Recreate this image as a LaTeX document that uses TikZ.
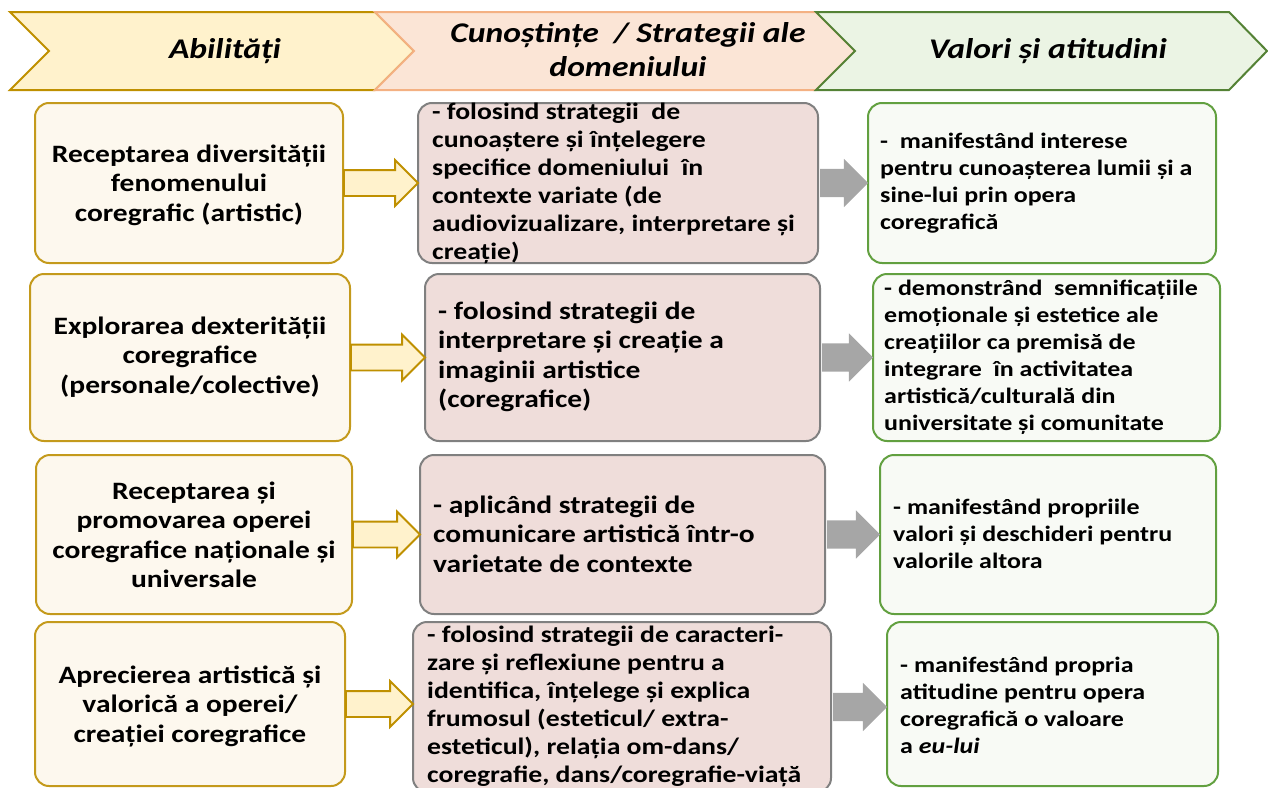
\documentclass[tikz,border=0pt]{standalone}
\usepackage{fontspec}
\setmainfont{Carlito}[FakeStretch=1.18]
\usetikzlibrary{shapes.arrows}
\definecolor{hyfill}{HTML}{FFF2CC}
\definecolor{hydraw}{HTML}{BF9000}
\definecolor{hpfill}{HTML}{FBE5D6}
\definecolor{hpdraw}{HTML}{F4B183}
\definecolor{hgfill}{HTML}{EBF4E4}
\definecolor{hgdraw}{HTML}{548235}
\definecolor{lfill}{HTML}{FDF8EE}
\definecolor{ldraw}{HTML}{C49A1C}
\definecolor{mfill}{HTML}{EFDDDA}
\definecolor{mdraw}{HTML}{808080}
\definecolor{rfill}{HTML}{F8FAF5}
\definecolor{rdraw}{HTML}{62A040}
\definecolor{garrowc}{HTML}{A6A6A6}
\begin{document}
\begin{tikzpicture}[x=1pt,y=-1pt,
  box/.style={rectangle, rounded corners=14pt, line width=2pt, inner sep=0pt},
  lbox/.style={box, draw=ldraw, fill=lfill},
  mbox/.style={box, draw=mdraw, fill=mfill},
  rbox/.style={box, draw=rdraw, fill=rfill},
  ltext/.style={align=center, inner sep=0pt, font=\bfseries\fontsize{25}{29.5}\selectfont},
  mtext/.style={align=left, anchor=west, inner sep=0pt, font=\bfseries\fontsize{23.5}{28}\selectfont},
  mtextb/.style={align=left, anchor=west, inner sep=0pt, font=\bfseries\fontsize{25}{29.5}\selectfont},
  rtext/.style={align=left, anchor=west, inner sep=0pt, font=\bfseries\fontsize{22}{27}\selectfont},
  htext/.style={align=center, inner sep=0pt, font=\bfseries\itshape\fontsize{28.5}{34}\selectfont},
  yarrow/.style={single arrow, draw=hydraw, fill=hyfill, line width=1.8pt, anchor=tail,
    inner xsep=0pt, inner ysep=12pt, single arrow head extend=10pt, outer sep=0pt},
  garrow/.style={single arrow, fill=garrowc, draw=none, anchor=tail,
    inner xsep=0pt, inner ysep=14pt, single arrow head extend=10pt, outer sep=0pt}
]
\useasboundingbox (0,0) rectangle (1268,787);

% header chevrons
\filldraw[fill=hyfill, draw=hydraw, line width=2pt, line join=miter]
  (10,12) -- (375,12) -- (414,51) -- (375,90) -- (10,90) -- (49,51) -- cycle;
\filldraw[fill=hpfill, draw=hpdraw, line width=2pt]
  (375,12) -- (816,12) -- (855,51) -- (816,90) -- (375,90) -- (414,51) -- cycle;
\filldraw[fill=hgfill, draw=hgdraw, line width=2pt]
  (816,12) -- (1229,12) -- (1267,51) -- (1229,90) -- (816,90) -- (855,51) -- cycle;
\node[htext] (h1) at (225,51) {Abilități};
\node[htext] (h2) at (628,50) {Cunoștințe\ \ / Strategii ale\\domeniului};
\node[htext] (h3) at (1048,51) {Valori și atitudini};

% row 1
\node[lbox, minimum width=308, minimum height=160] (l1) at (189,183) {};
\node[mbox, minimum width=400, minimum height=160] (m1) at (618,183) {};
\node[rbox, minimum width=348, minimum height=160] (r1) at (1042,183) {};
\node[ltext] (tl1) at (189,185) {Receptarea diversității\\fenomenului\\coregrafic (artistic)};
\node[mtext] (tm1) at (432,183) {- folosind strategii\ \ de\\cunoaștere și înțelegere\\specifice domeniului\ \ în\\contexte variate (de\\audiovizualizare, interpretare și\\creație)};
\node[rtext] (tr1) at (880,183) {-\ \ manifestând interese\\pentru cunoașterea lumii și a\\sine-lui prin opera\\coregrafică};
\node[yarrow, minimum height=74] (ya1) at (l1.east) {};
\node[garrow, minimum height=48] (ga1) at ([xshift=1pt]m1.east) {};

% row 2
\node[lbox, minimum width=320, minimum height=167] (l2) at (190,357.5) {};
\node[mbox, minimum width=395, minimum height=167] (m2) at (622.5,357.5) {};
\node[rbox, minimum width=347, minimum height=167] (r2) at (1046.5,357.5) {};
\node[ltext] (tl2) at (190,357) {Explorarea dexterității\\coregrafice\\(personale/colective)};
\node[mtextb] (tm2) at (438,357) {- folosind strategii de\\interpretare și creație a\\imaginii artistice\\(coregrafice)};
\node[rtext] (tr2) at (884,357) {- demonstrând\ \ semnificațiile\\emoționale și estetice ale\\creațiilor ca premisă de\\integrare\ \ în activitatea\\artistică/culturală din\\universitate și comunitate};
\node[yarrow, minimum height=74] (ya2) at (l2.east) {};
\node[garrow, minimum height=51] (ga2) at ([xshift=1pt]m2.east) {};

% row 3
\node[lbox, minimum width=316, minimum height=159] (l3) at (194,534.5) {};
\node[mbox, minimum width=405, minimum height=159] (m3) at (622.5,534.5) {};
\node[rbox, minimum width=336, minimum height=159] (r3) at (1048,534.5) {};
\node[ltext] (tl3) at (194,535) {Receptarea și\\promovarea operei\\coregrafice naționale și\\universale};
\node[mtextb] (tm3) at (433,534) {- aplicând strategii de\\comunicare artistică într-o\\varietate de contexte};
\node[rtext] (tr3) at (893,534) {- manifestând propriile\\valori și deschideri pentru\\valorile altora};
\node[yarrow, minimum height=67] (ya3) at (l3.east) {};
\node[garrow, minimum height=53] (ga3) at ([xshift=1pt]m3.east) {};

% row 4
\node[lbox, minimum width=310, minimum height=164] (l4) at (190,704) {};
\node[mbox, minimum width=418, minimum height=170] (m4) at (622,707) {};
\node[rbox, minimum width=331, minimum height=164] (r4) at (1052.5,704) {};
\node[ltext] (tl4) at (190,706) {Aprecierea artistică și\\valorică a operei/\\creației coregrafice};
\node[mtext] (tm4) at (427,706) {- folosind strategii de caracteri-\\zare și reflexiune pentru a\\identifica, înțelege și explica\\frumosul (esteticul/ extra-\\esteticul), relația om-dans/\\coregrafie, dans/coregrafie-viață};
\node[rtext] (tr4) at (900,705) {- manifestând propria\\atitudine pentru opera\\coregrafică o valoare\\a \textit{eu-lui}};
\node[yarrow, minimum height=67] (ya4) at (l4.east) {};
\node[garrow, minimum height=54] (ga4) at ([xshift=1pt]m4.east) {};
\end{tikzpicture}
\end{document}
